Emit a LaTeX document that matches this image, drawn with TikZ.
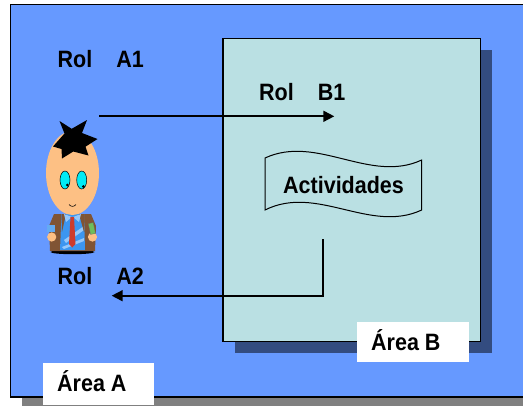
\documentclass[tikz,border=0pt]{standalone}
\usepackage{fontspec}
\usepackage{graphicx}
\setmainfont{Liberation Sans}
\usetikzlibrary{arrows.meta}

\definecolor{areaA}{RGB}{102,153,255}
\definecolor{areaB}{RGB}{186,224,227}
\definecolor{shadeB}{RGB}{51,76,128}
\definecolor{shadeA}{RGB}{128,128,128}
\definecolor{skin}{RGB}{253,192,132}
\definecolor{jacket}{RGB}{128,84,52}
\definecolor{shirt}{RGB}{60,150,240}
\definecolor{shirtlight}{RGB}{150,200,250}
\definecolor{tiered}{RGB}{205,60,45}
\definecolor{eyecyan}{RGB}{0,235,245}
\definecolor{phone}{RGB}{110,190,90}

\newcommand{\tallbold}[1]{\scalebox{1}[1.1]{\bfseries #1}}

\tikzset{
  lbl/.style={inner sep=0pt, anchor=base west, font=\fontsize{21.5}{24}\selectfont},
  flow/.style={line width=1.7pt, -{Triangle[length=11pt,width=11pt]}},
  tagbox/.style={fill=white, draw=none},
}

\begin{document}
\begin{tikzpicture}[x=1pt, y=-1pt]
\useasboundingbox (0,0) rectangle (523,405);

% Area A: shadow and main panel
\fill[shadeA] (22,397) rectangle (530,410);
\fill[areaA, draw=black, line width=1.2pt] (10.5,4.7) rectangle (540,397);

% Area B: shadow and panel
\fill[shadeB] (235,50) rectangle (491.7,352.7);
\fill[areaB, draw=black, line width=1.6pt] (222.7,38.3) rectangle (480.3,341.3);

% labels of the two areas
\fill[tagbox] (356.7,322) rectangle (468.7,362.3);
\node[lbl] (areaBlbl) at (371,350.7) {\tallbold{Área B}};
\fill[tagbox] (42.7,363.3) rectangle (154.3,405);
\node[lbl] (areaAlbl) at (57,391.7) {\tallbold{Área A}};

% role labels
\node[lbl] (rolA1) at (57.5,67.7) {\tallbold{Rol\hspace{24pt}A1}};
\node[lbl] (rolB1) at (259,100.7) {\tallbold{Rol\hspace{24pt}B1}};
\node[lbl] (rolA2) at (57.5,284.3) {\tallbold{Rol\hspace{24pt}A2}};

% activities document (wavy tape)
\draw[line width=1pt, fill=areaB]
  (265,158) .. controls (317,134) and (370,184) .. (421.7,160)
  -- (421.7,210)
  .. controls (370,234) and (317,184) .. (265,210) -- cycle;
\node[lbl] (act) at (283,193.3) {\tallbold{Actividades}};

% connectors
\coordinate (startA1) at (99.3,116.3);
\coordinate (endB1) at (334.3,116.3);
\coordinate (startAct) at (323.3,239.3);
\coordinate (endA2) at (111.7,295.7);
\draw[flow] (startA1) -- (endB1);
\draw[flow] (startAct) |- (endA2);

% person: body
\fill[black] (72.5,252) ellipse (22pt and 2.2pt);
\fill[jacket] (54,214) -- (91,214) -- (96,226) -- (95,251) -- (50,251) -- (49,226) -- cycle;
\fill[shirt] (61.5,214) -- (84,214) -- (85,250) -- (60,250) -- cycle;
\fill[shirtlight] (64,240) -- (84,226) -- (84,230) -- (66,243) -- cycle;
\fill[shirtlight] (62,247) -- (84,238) -- (84,241) -- (64,249) -- cycle;
\fill[jacket] (61.5,214) -- (66,214) -- (62,232) -- cycle;
\fill[jacket] (84,214) -- (79,214) -- (84,232) -- cycle;
\fill[shirtlight] (64,214) -- (72,217) -- (66,222) -- cycle;
\fill[shirtlight] (81,214) -- (73,217) -- (79,222) -- cycle;
\fill[tiered] (70.5,217) -- (74,217) -- (75.5,244) -- (72.3,247.5) -- (69,244) -- cycle;
\fill[skin] (51.7,237) circle (4.6pt);
\fill[skin] (92.5,237) circle (4.6pt);
\fill[shirt!80!white] (47,225) rectangle (55,232);
\fill[phone, draw=black!60, line width=0.3pt, rotate around={12:(92,229)}] (89.5,223) rectangle (94.5,234);

% person: head
\fill[skin] (72.5,173) ellipse (26.5pt and 42pt);
\fill[eyecyan, draw=black, line width=0.5pt] (65,180) ellipse (5pt and 9pt);
\fill[eyecyan, draw=black, line width=0.5pt] (81.7,180) ellipse (5pt and 9pt);
\fill[black] (67.3,185) circle (1.5pt);
\fill[black] (83.3,186.5) circle (1.5pt);
\draw[black, line width=0.6pt] (69,204.5) .. controls (71,207) and (74,207) .. (76,204.5);

% person: hair
\fill[black] (59.5,121) -- (71.7,128.8) -- (87,120) -- (82,133) -- (97.5,139)
  -- (85.5,146.7) -- (88.5,155.5) -- (73.3,151.5) -- (62,158.5) -- (61.5,149)
  -- (53,146.5) -- (64.5,133.5) -- cycle;
\end{tikzpicture}
\end{document}
